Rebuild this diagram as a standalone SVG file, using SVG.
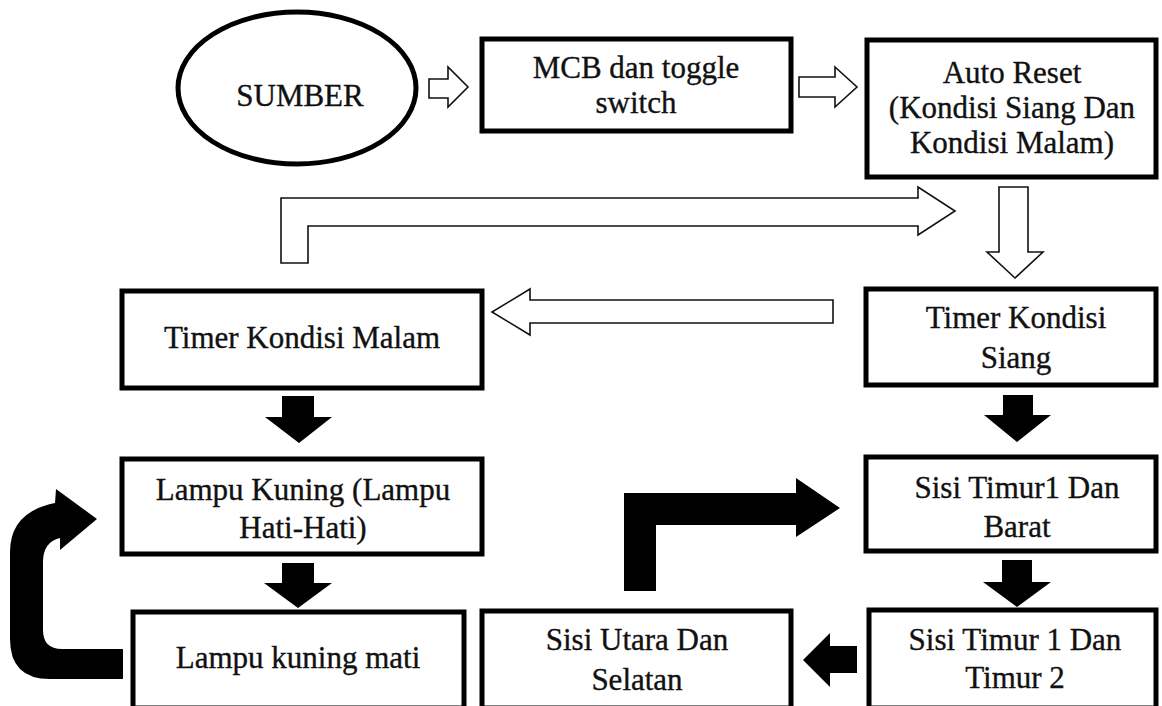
<svg xmlns="http://www.w3.org/2000/svg" width="1162" height="706" viewBox="0 0 1162 706">
<style>
.box{fill:#fff;stroke:#000;stroke-width:5}
.t{font-family:"Liberation Serif","Times New Roman",serif;font-size:31px;fill:#111;stroke:#111;stroke-width:0.35;text-anchor:middle}
.hollow{fill:#fff;stroke:#111;stroke-width:1.6;stroke-linejoin:miter}
.solid{fill:#000;stroke:none}
</style>
<rect width="1162" height="706" fill="#fff"/>
<g id="connectors">
<polygon class="hollow" points="429,79 448,79 448,67 468,87 448,107 448,98 429,98"/>
<polygon class="hollow" points="799,77 835,77 835,67 857,87 835,107 835,97 799,97"/>
<polygon class="hollow" points="281,263 281,198 918,198 918,187 955,211 918,235 918,226 308,226 308,263"/>
<polygon class="hollow" points="999,187 1028,187 1028,252 1043,252 1015,278 987,252 999,252"/>
<polygon class="hollow" points="833,300 833,323 530,323 530,335 492,312 530,289 530,300"/>
<polygon class="solid" points="282,396 314,396 314,417 332,417 299,443 265,417 282,417"/>
<polygon class="solid" points="282,563 314,563 314,583 332,583 298,608 264,583 282,583"/>
<polygon class="solid" points="1003,395 1033,395 1033,415 1051,415 1017,442 984,415 1003,415"/>
<polygon class="solid" points="1002,560 1032,560 1032,582 1051,582 1017,607 983,582 1002,582"/>
<polygon class="solid" points="857,646 857,673 830,673 830,687 803,660 830,633 830,646"/>
<polygon class="solid" points="624,591 624,493 796,493 796,478 840,508 796,537 796,525 656,525 656,591"/>
<path class="solid" d="M123,649 L123,679 L50,679 Q10,679 10,639 L10,552 Q10,512 55,503 L56,489 L97,519 L60,550 L60,538 Q43,542 43,562 L43,630 Q43,649 62,649 Z"/>
</g>
<g id="sumber">
<ellipse cx="297" cy="88" rx="119" ry="76" fill="#fff" stroke="#000" stroke-width="5"/>
<text class="t" x="300" y="106">SUMBER</text>
</g>
<g id="mcb">
<rect class="box" x="482" y="39" width="309" height="92"/>
<text class="t" x="636" y="78">MCB dan toggle</text>
<text class="t" x="636" y="113">switch</text>
</g>
<g id="auto-reset">
<rect class="box" x="867" y="40" width="289" height="137"/>
<text class="t" x="1012" y="83">Auto Reset</text>
<text class="t" x="1012" y="118">(Kondisi Siang Dan</text>
<text class="t" x="1012" y="153">Kondisi Malam)</text>
</g>
<g id="timer-malam">
<rect class="box" x="122" y="291" width="360" height="97"/>
<text class="t" x="302" y="348">Timer Kondisi Malam</text>
</g>
<g id="timer-siang">
<rect class="box" x="866" y="289" width="290" height="96"/>
<text class="t" x="1016" y="328">Timer Kondisi</text>
<text class="t" x="1016" y="368">Siang</text>
</g>
<g id="lampu-kuning">
<rect class="box" x="122" y="459" width="360" height="95"/>
<text class="t" x="303" y="500">Lampu Kuning (Lampu</text>
<text class="t" x="303" y="538">Hati-Hati)</text>
</g>
<g id="sisi-timur1-barat">
<rect class="box" x="866" y="457" width="290" height="94"/>
<text class="t" x="1017" y="498">Sisi Timur1 Dan</text>
<text class="t" x="1017" y="537">Barat</text>
</g>
<g id="lampu-mati">
<rect class="box" x="133" y="612" width="331" height="96"/>
<text class="t" x="298" y="668">Lampu kuning mati</text>
</g>
<g id="sisi-utara">
<rect class="box" x="482" y="611" width="309" height="97"/>
<text class="t" x="637" y="650">Sisi Utara Dan</text>
<text class="t" x="637" y="690">Selatan</text>
</g>
<g id="sisi-timur1-timur2">
<rect class="box" x="869" y="610" width="287" height="98"/>
<text class="t" x="1015" y="650">Sisi Timur 1 Dan</text>
<text class="t" x="1015" y="688">Timur 2</text>
</g>
</svg>
